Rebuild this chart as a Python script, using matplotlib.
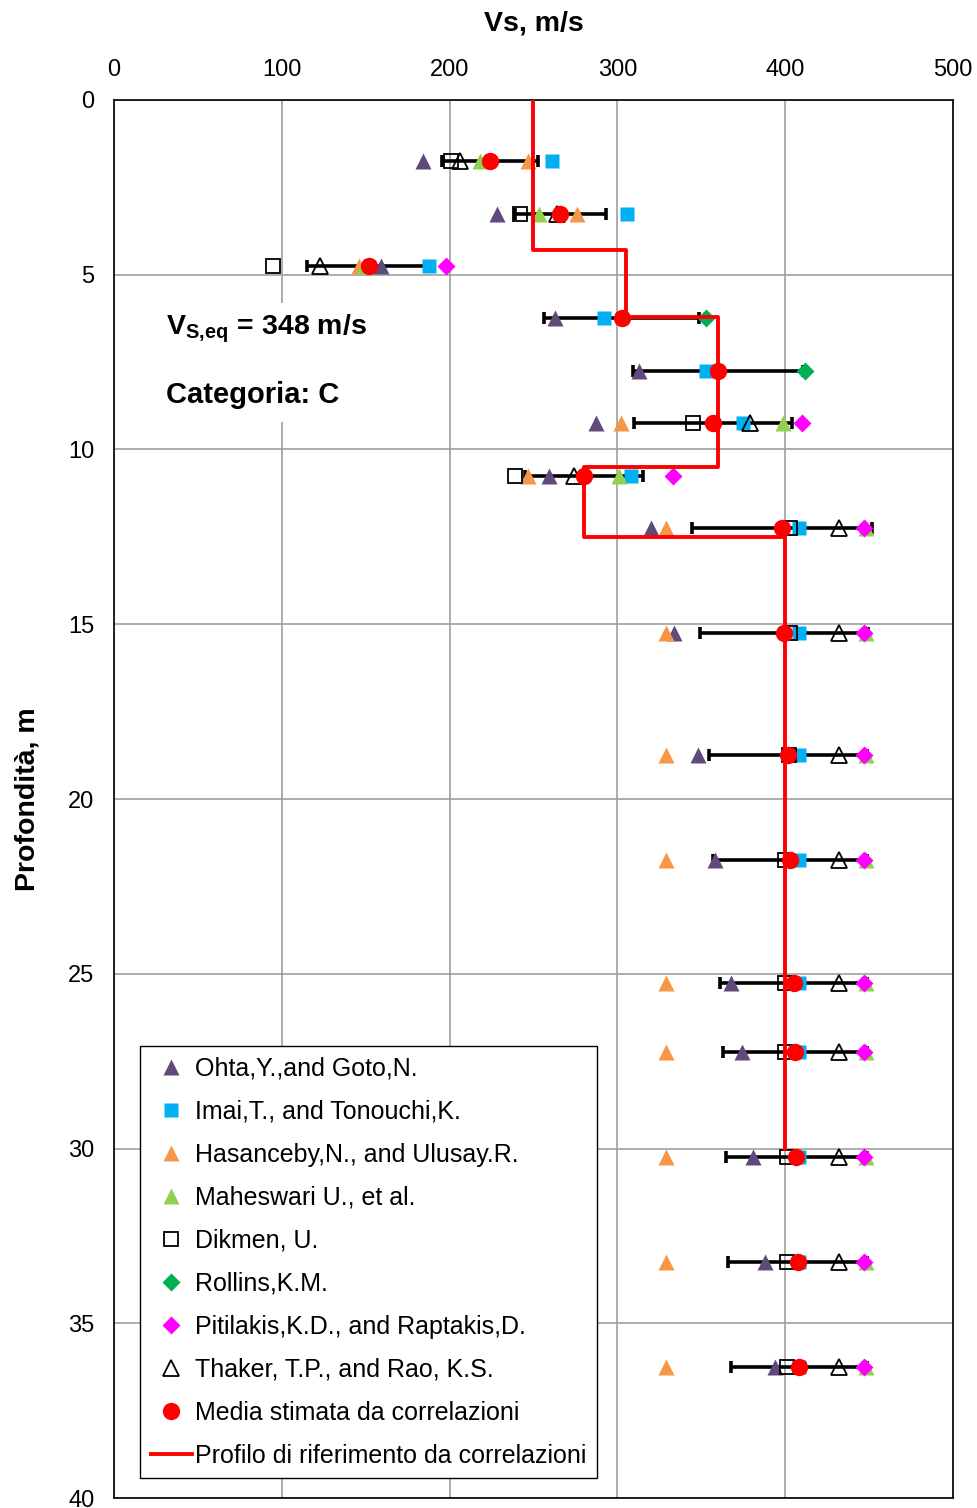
import matplotlib
matplotlib.use("Agg")
import matplotlib.pyplot as plt
import numpy as np
from matplotlib.patches import Rectangle

plt.rcParams['font.family'] = ['Liberation Sans', 'DejaVu Sans']
plt.rcParams['mathtext.fontset'] = 'custom'
plt.rcParams['mathtext.rm'] = 'Liberation Sans'
plt.rcParams['mathtext.bf'] = 'Liberation Sans:bold'

nan = np.nan

# depth of each SPT reading (m)
depth = [1.75, 3.25, 4.75, 6.25, 7.75, 9.25, 10.75, 12.25, 15.25, 18.75,
         21.75, 25.25, 27.25, 30.25, 33.25, 36.25]

# Vs from each correlation (m/s)
ohta = [184, 228, 159, 263, 313, 287, 259, 320, 334, 348, 358, 368, 374, 381, 388, 394]
imai = [261, 306, 188, 292, 353, 375, 308, 408, 408, 408, 408, 408, 408, 408, 408, 408]
hasanceby = [247, 276, 146, nan, nan, 302, 247, 329, 329, 329, 329, 329, 329, 329, 329, 329]
maheswari = [218, 253, 149, nan, nan, 399, 301, 448, 448, 448, 448, 448, 448, 448, 448, 448]
dikmen = [201, 242, 95, nan, nan, 345, 239, 403, 403, 402, 400, 400, 400, 401, 401, 401]
rollins = [nan, nan, nan, 353, 412, nan, nan, nan, nan, nan, nan, nan, nan, nan, nan, nan]
pitilakis = [nan, nan, 198, nan, nan, 410, 333, 447, 447, 447, 447, 447, 447, 447, 447, 447]
thaker = [206, 264, 123, nan, nan, 379, 274, 432, 432, 432, 432, 432, 432, 432, 432, 432]

# mean and standard deviation of the correlations
media = [224, 266, 152, 302.5, 360, 357, 280, 398, 399.5, 401.5, 403, 405, 406, 406.5, 407.5, 408]
dev_std = [28.5, 27, 37, 46, 50.5, 47, 35, 53.5, 50, 47, 46, 44, 43, 42, 41.5, 40.5]

# reference profile layers
strato_top = [0, 4.3, 6.2, 10.5, 12.5]
strato_bot = [4.3, 6.2, 10.5, 12.5, 30.0]
strato_vs = [250, 305, 360, 280, 400]

fig = plt.figure(figsize=(9.78, 15.08), dpi=100)
ax = fig.add_axes([0.1166, 0.0066, 0.8578, 0.9271])

ax.errorbar(media, depth, xerr=dev_std, fmt='none', ecolor='black',
            elinewidth=2.6, capsize=4, capthick=2.6, zorder=2)

ms = 12
ax.plot(ohta, depth, '^', color='#604A7B', ms=ms, mec='none', label='Ohta,Y.,and Goto,N.', zorder=3)
ax.plot(imai, depth, 's', color='#00B0F0', ms=ms - 1.5, mec='none', label='Imai,T., and Tonouchi,K.', zorder=3)
ax.plot(hasanceby, depth, '^', color='#F79646', ms=ms, mec='none', label='Hasanceby,N., and Ulusay.R.', zorder=3)
ax.plot(maheswari, depth, '^', color='#92D050', ms=ms, mec='none', label='Maheswari U., et al.', zorder=3)
ax.plot(dikmen, depth, 's', mfc='none', mec='black', mew=1.3, ms=ms - 2.5, label='Dikmen, U.', zorder=3)
ax.plot(rollins, depth, 'D', color='#00B050', ms=ms - 2.5, mec='none', label='Rollins,K.M.', zorder=3)
ax.plot(pitilakis, depth, 'D', color='#FF00FF', ms=ms - 2.5, mec='none', label='Pitilakis,K.D., and Raptakis,D.', zorder=3)
ax.plot(thaker, depth, '^', mfc='none', mec='black', mew=1.3, ms=ms, label='Thaker, T.P., and Rao, K.S.', zorder=3)
ax.plot(media, depth, 'o', color='#FF0000', ms=ms + 0.5, mec='none', label='Media stimata da correlazioni', zorder=5)

# step profile
px, py = [], []
for top, bot, vs in zip(strato_top, strato_bot, strato_vs):
    px += [vs, vs]
    py += [top, bot]
ax.plot(px, py, color='#FF0000', lw=2.8, label='Profilo di riferimento da correlazioni', zorder=4)

ax.set_xlim(0, 500)
ax.set_ylim(40, 0)
ax.set_xticks(range(0, 501, 100))
ax.set_yticks(range(0, 41, 5))
ax.xaxis.tick_top()
ax.xaxis.set_label_position('top')
ax.tick_params(length=0, labelsize=17, pad=14)
ax.set_xlabel('Vs, m/s', fontsize=20.5, fontweight='bold', labelpad=20)
ax.set_ylabel('Profondità, m', fontsize=20.5, fontweight='bold', labelpad=20)
ax.set_axisbelow(True)
ax.grid(color='#A0A0A0', lw=1.2)
for sp in ax.spines.values():
    sp.set_linewidth(1.2)

# summary text
ax.add_patch(Rectangle((22, 5.8), 120, 3.4, fc='white', ec='none', zorder=1))
ax.text(31, 6.55, r'$\mathbf{V}_{\mathbf{S,\!eq}}$ = 348 m/s', fontsize=20.5, fontweight='bold', va='center', zorder=6)
ax.text(31, 8.45, 'Categoria: C', fontsize=21, fontweight='bold', va='center', zorder=6)

leg = ax.legend(loc='lower left', bbox_to_anchor=(0.031, 0.014), fontsize=18,
                frameon=True, fancybox=False, edgecolor='black', framealpha=1,
                handlelength=1.65, handletextpad=0.12, labelspacing=0.76,
                borderpad=0.42, borderaxespad=0)
leg.get_frame().set_linewidth(1.0)

fig.savefig('out.png', dpi=100)
